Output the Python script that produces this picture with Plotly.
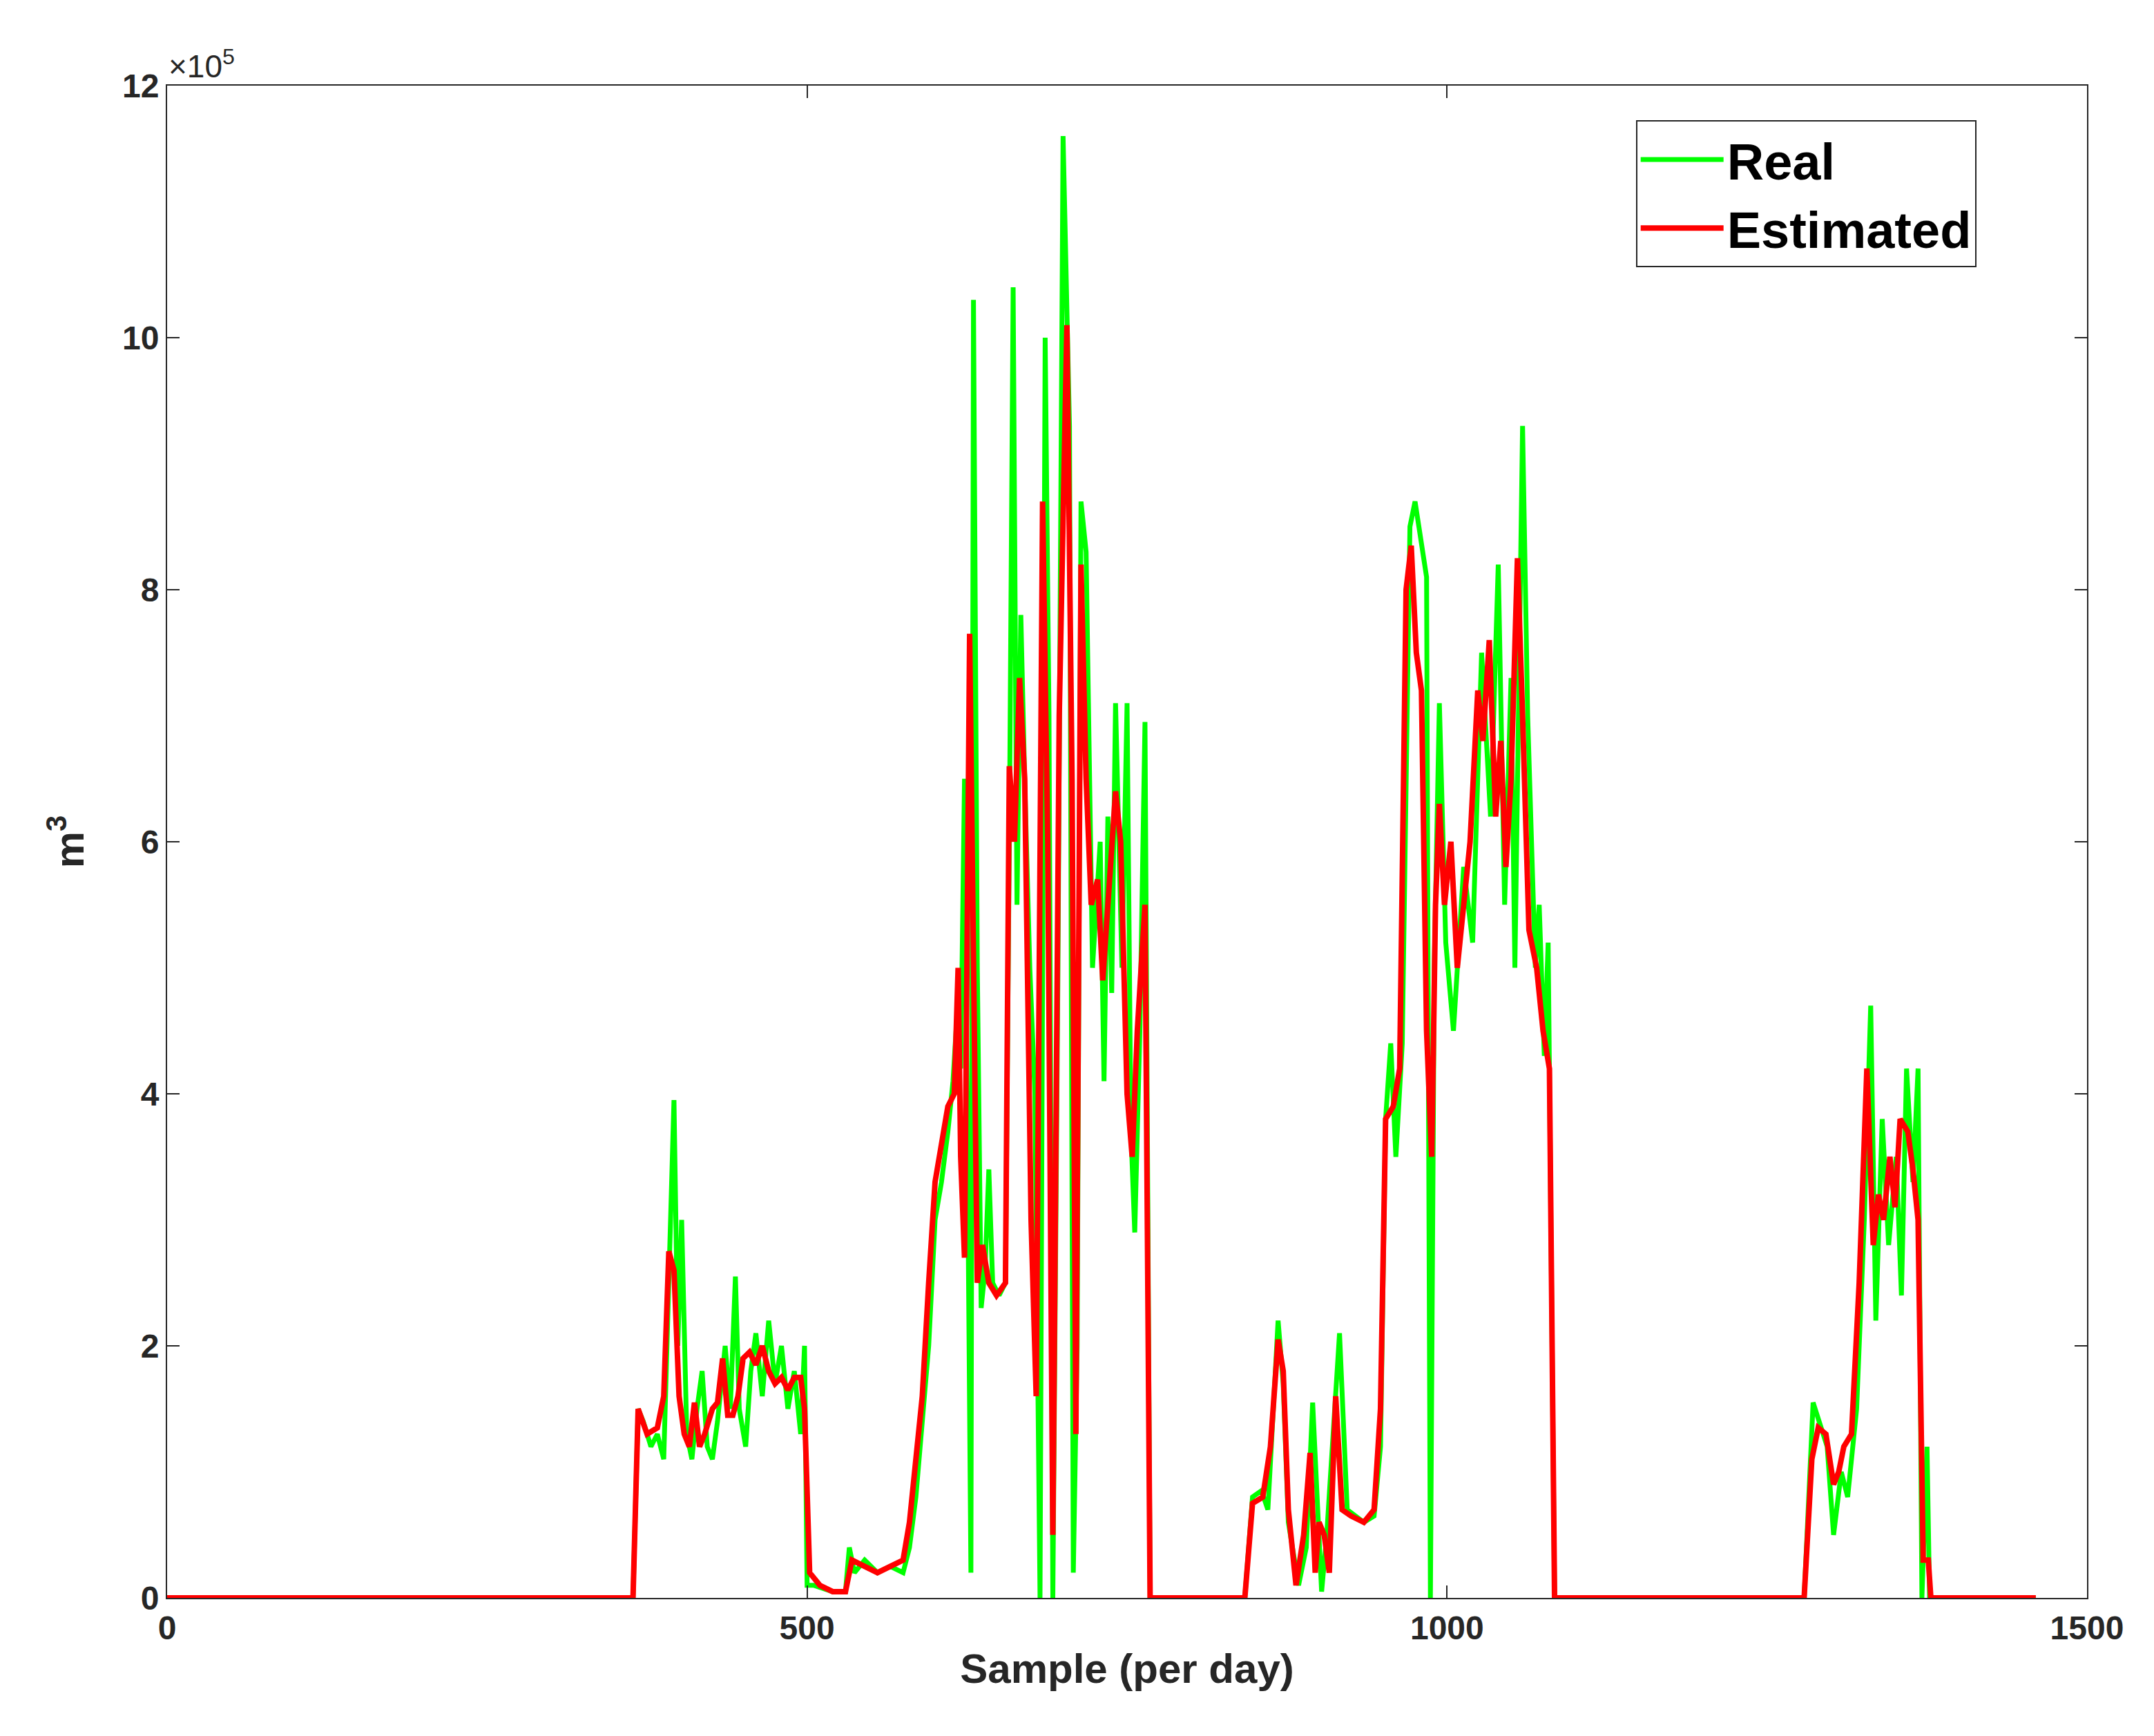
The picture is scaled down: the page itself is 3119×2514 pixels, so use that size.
import plotly.graph_objects as go

# Daily volume (units of 1e5 m^3), breakpoints
real_x = [0, 364, 368, 372, 378, 383, 388, 392, 396, 399, 402, 406, 410, 414, 418, 422, 426, 430,
          436, 440, 444, 447, 452, 456, 460, 465, 470, 475, 480, 485, 490, 495, 498, 500, 505, 520,
          530, 533, 537, 545, 555, 565, 575, 580, 585, 590, 595, 600, 605, 610, 614, 617, 620, 623,
          625, 627, 628, 630, 633, 636, 639, 642, 645, 650, 655, 658, 661, 664, 667, 670, 674, 678,
          682, 686, 689, 692, 696, 700, 705, 708, 711, 714, 718, 723, 729, 732, 735, 738, 741, 746,
          750, 753, 756, 760, 764, 768, 842, 848, 855, 860, 865, 868, 872, 876, 884, 890, 895, 902,
          906, 916, 922, 935, 943, 948, 952, 956, 960, 965, 971, 975, 984, 987, 990, 994, 999, 1005,
          1013, 1020, 1027, 1034, 1040, 1045, 1050, 1053, 1059, 1063, 1069, 1072, 1076, 1079, 1084,
          1279, 1286, 1297, 1302, 1308, 1313, 1320, 1326, 1331, 1335, 1340, 1345, 1351, 1355, 1359,
          1364, 1368, 1371, 1375, 1377, 1460]
real_y = [0, 0, 1.5, 1.4, 1.2, 1.3, 1.1, 2.4, 3.95, 2.0, 3.0, 1.3, 1.1, 1.5, 1.8, 1.2, 1.1, 1.4,
          2.0, 1.5, 2.55, 1.5, 1.2, 1.8, 2.1, 1.6, 2.2, 1.7, 2.0, 1.5, 1.8, 1.3, 2.0, 0.1, 0.1, 0.05,
          0.05, 0.4, 0.2, 0.3, 0.2, 0.25, 0.2, 0.4, 0.8, 1.4, 2.0, 3.0, 3.3, 3.7, 4.1, 4.6, 4.2, 6.5,
          4.0, 0.5, 0.2, 10.3, 5.0, 2.3, 2.6, 3.4, 2.5, 2.4, 2.5, 6.0, 10.4, 5.5, 7.8, 6.5, 5.0, 4.0,
          0.0, 10.0, 7.0, 0.0, 5.0, 11.6, 9.3, 0.2, 2.0, 8.7, 8.3, 5.0, 6.0, 4.1, 6.2, 4.8, 7.1, 5.0,
          7.1, 3.7, 2.9, 4.5, 6.95, 0, 0, 0.8, 0.85, 0.7, 1.6, 2.2, 1.7, 0.6, 0.1, 0.4, 1.55, 0.05,
          0.5, 2.1, 0.7, 0.6, 0.65, 1.2, 3.8, 4.4, 3.5, 4.4, 8.5, 8.7, 8.1, 0.0, 5.0, 7.1, 5.2, 4.5,
          5.8, 5.2, 7.5, 6.2, 8.2, 5.5, 7.3, 5.0, 9.3, 7.0, 5.0, 5.5, 4.3, 5.2, 0,
          0, 1.55, 1.2, 0.5, 1.0, 0.8, 1.5, 3.0, 4.7, 2.2, 3.8, 2.8, 3.5, 2.4, 4.2,
          3.3, 4.2, 0, 1.2, 0, 0]

est_x = [0, 364, 368, 375, 383, 388, 392, 396, 400, 404, 408, 412, 416, 420, 426, 430, 434, 438,
         442, 446, 450, 455, 460, 465, 470, 475, 480, 485, 490, 495, 498, 502, 510, 520, 530, 535,
         545, 555, 565, 575, 580, 585, 590, 595, 600, 605, 610, 615, 618, 620, 623, 627, 630, 633,
         637, 642, 648, 655, 658, 662, 666, 670, 675, 679, 684, 688, 692, 697, 703, 707, 710, 714,
         718, 722, 727, 731, 735, 741, 745, 750, 754, 758, 764, 768, 842, 848, 856, 862, 868, 872,
         876, 882, 888, 893, 897, 900, 904, 908, 913, 918, 925, 935, 943, 948, 952, 958, 963, 968,
         972, 976, 980, 984, 988, 991, 994, 998, 1003, 1008, 1013, 1018, 1024, 1028, 1033, 1038,
         1042, 1046, 1050, 1055, 1059, 1064, 1070, 1075, 1080, 1084, 1279, 1285, 1290, 1296, 1302,
         1306, 1310, 1316, 1322, 1328, 1333, 1337, 1341, 1346, 1350, 1354, 1360, 1364, 1368, 1372,
         1376, 1378, 1460]
est_y = [0, 0, 1.5, 1.3, 1.35, 1.6, 2.75, 2.6, 1.6, 1.3, 1.2, 1.55, 1.2, 1.3, 1.5, 1.55, 1.9, 1.45,
         1.45, 1.6, 1.9, 1.95, 1.85, 2.0, 1.8, 1.7, 1.75, 1.65, 1.75, 1.75, 1.5, 0.2, 0.1, 0.05, 0.05,
         0.3, 0.25, 0.2, 0.25, 0.3, 0.6, 1.1, 1.6, 2.5, 3.3, 3.6, 3.9, 4.0, 5.0, 3.5, 2.7, 7.65, 5.0,
         2.5, 2.8, 2.5, 2.4, 2.5, 6.6, 6.0, 7.3, 6.5, 3.0, 1.6, 8.7, 6.0, 0.5, 7.0, 10.1, 6.5, 1.3,
         8.2, 6.5, 5.5, 5.7, 4.9, 5.5, 6.4, 6.0, 4.0, 3.5, 4.5, 5.5, 0, 0, 0.75, 0.8, 1.2, 2.05, 1.8,
         0.7, 0.1, 0.5, 1.15, 0.2, 0.6, 0.5, 0.2, 1.6, 0.7, 0.65, 0.6, 0.7, 1.5, 3.8, 3.9, 4.2, 8.0,
         8.35, 7.5, 7.2, 4.5, 3.5, 5.5, 6.3, 5.5, 6.0, 5.0, 5.5, 6.0, 7.2, 6.8, 7.6, 6.2,
         6.8, 5.8, 6.5, 8.25, 7.0, 5.3, 5.0, 4.5, 4.2, 0, 0, 1.1, 1.35, 1.3, 0.9,
         1.0, 1.2, 1.3, 2.5, 4.2, 2.8, 3.2, 3.0, 3.5, 3.1, 3.8, 3.7, 3.4, 3.0, 0.3,
         0.3, 0, 0]

x_ticks = [0, 500, 1000, 1500]
y_ticks = [0, 2, 4, 6, 8, 10, 12]

font = "Liberation Sans, Arial, sans-serif"

fig = go.Figure()
fig.add_trace(go.Scatter(x=real_x, y=real_y, mode="lines", name="Real",
                         line=dict(color="#00ff00", width=7)))
fig.add_trace(go.Scatter(x=est_x, y=est_y, mode="lines", name="Estimated",
                         line=dict(color="#ff0000", width=8)))

axis_common = dict(showline=True, linecolor="#262626", linewidth=2, mirror="ticks",
                   ticks="inside", ticklen=18, tickwidth=2, tickcolor="#262626",
                   showgrid=False, zeroline=False,
                   tickfont=dict(family=font, size=48, color="#262626", weight="bold"))

fig.update_layout(
    width=3119, height=2514,
    paper_bgcolor="white", plot_bgcolor="white",
    margin=dict(l=234, r=105, t=116, b=208),
    font=dict(family=font, color="#262626"),
    xaxis=dict(range=[0, 1500], tickvals=x_ticks,
               title=dict(text="<b>Sample (per day)</b>", font=dict(size=60), standoff=12),
               **axis_common),
    yaxis=dict(range=[0, 12], tickvals=y_ticks,
               title=dict(text="<b>m<sup>3</sup></b>", font=dict(size=60), standoff=36),
               **axis_common),
    legend=dict(x=0.765, y=0.977, xanchor="left", yanchor="top",
                bgcolor="white", bordercolor="#262626", borderwidth=2,
                font=dict(family=font, size=74, color="black", weight="bold"),
                itemwidth=120, tracegroupgap=0),
    showlegend=True,
)

fig.add_annotation(text="×10<sup>5</sup>", xref="paper", yref="paper", x=0, y=1.0,
                   xanchor="left", yanchor="bottom", showarrow=False,
                   font=dict(family=font, size=46, color="#262626"))

fig.write_html("out.html")
